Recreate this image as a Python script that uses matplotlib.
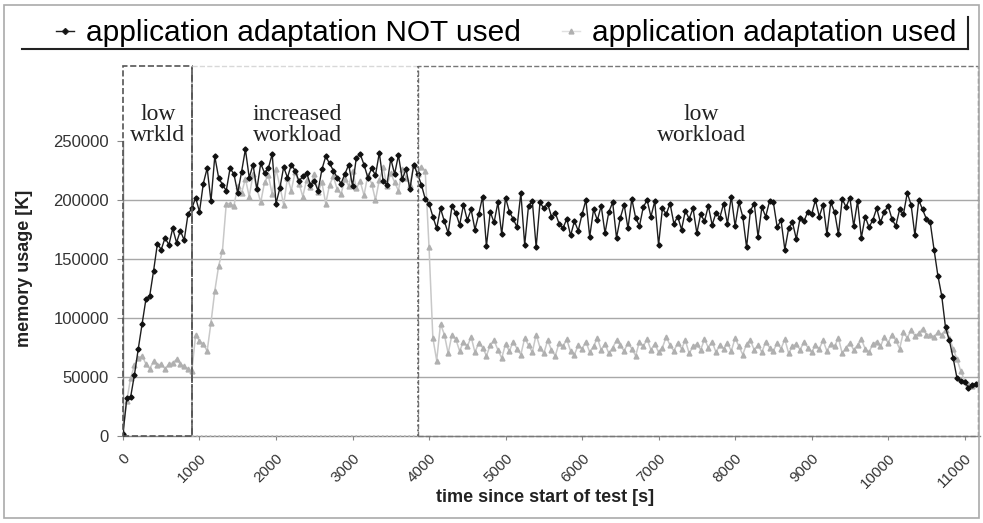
import matplotlib
matplotlib.use('Agg')
import matplotlib.pyplot as plt
import numpy as np
from matplotlib.lines import Line2D
from matplotlib.patches import Rectangle

# sampling interval of the memory log [s]
interval = 50

# memory usage [K], application adaptation NOT used
mem_not_used = [
    # low workload
    2000, 32000, 33000, 52000, 74000, 95000, 116000, 119000, 140000, 163000,
    158000, 168000, 162000, 176000, 164000, 174000, 166000, 188000, 193000, 202000,
    # increased workload
    190000, 214000, 227000, 199000, 237000, 219000, 213000, 208000, 227000, 222000,
    206000, 224000, 243000, 219000, 230000, 209000, 231000, 223000, 227000, 239000,
    197000, 210000, 228000, 219000, 230000, 225000, 216000, 220000, 223000, 213000,
    216000, 208000, 226000, 237000, 231000, 225000, 219000, 214000, 222000, 230000,
    212000, 236000, 239000, 230000, 219000, 227000, 221000, 240000, 216000, 213000,
    235000, 222000, 238000, 218000, 226000, 209000, 230000, 222000, 213000, 201000,
    # low workload
    197000, 186000, 176000, 193000, 182000, 172000, 195000, 189000, 179000, 196000,
    183000, 192000, 175000, 188000, 203000, 161000, 190000, 181000, 198000, 171000,
    202000, 190000, 184000, 177000, 206000, 162000, 195000, 199000, 160000, 198000,
    193000, 197000, 186000, 189000, 180000, 176000, 184000, 170000, 182000, 174000,
    188000, 200000, 169000, 192000, 183000, 195000, 172000, 190000, 198000, 168000,
    185000, 196000, 176000, 201000, 185000, 178000, 194000, 200000, 186000, 199000,
    162000, 193000, 188000, 197000, 180000, 186000, 175000, 191000, 184000, 193000,
    172000, 188000, 182000, 195000, 179000, 189000, 185000, 197000, 180000, 203000,
    178000, 198000, 186000, 160000, 191000, 197000, 169000, 194000, 186000, 199000,
    198000, 177000, 183000, 158000, 176000, 181000, 167000, 185000, 182000, 190000,
    188000, 200000, 186000, 196000, 171000, 198000, 190000, 171000, 201000, 194000,
    202000, 178000, 199000, 168000, 186000, 177000, 183000, 193000, 181000, 190000,
    195000, 184000, 178000, 192000, 188000, 206000, 196000, 170000, 200000, 192000,
    184000,
    # end of test
    181000, 158000, 136000, 119000, 92000, 81000, 66000, 49000, 47000, 46000,
    41000, 43000, 44000,
]

# memory usage [K], application adaptation used
mem_used = [
    # low workload
    3000, 30000, 49000, 60000, 66000, 68000, 61000, 57000, 63500, 60000,
    61000, 57000, 61000, 62000, 65000, 61000, 59000, 57000, 55000, 86000,
    # increased workload
    80500, 78000, 72000, 96000, 123000, 144000, 157000, 197000, 197000, 195000,
    212000, 206000, 218000, 203000, 222000, 210000, 198000, 215000, 221000, 205000,
    226000, 212000, 196000, 219000, 208000, 224000, 214000, 203000, 217000, 211000,
    222000, 207000, 215000, 197000, 213000, 220000, 209000, 205000, 218000, 212000,
    225000, 210000, 216000, 204000, 221000, 214000, 200000, 217000, 228000, 212000,
    223000, 215000, 208000, 226000, 219000, 213000, 230000, 222000, 228000, 225000,
    # low workload
    160000, 83000, 64000, 95000, 86000, 70000, 86000, 82000, 72000, 80000,
    76000, 84000, 71000, 79000, 75000, 68000, 77000, 81000, 73000, 66000,
    78000, 72000, 80000, 74000, 69000, 83000, 77000, 71000, 86000, 75000,
    70000, 81000, 73000, 68000, 79000, 76000, 82000, 72000, 69000, 77000,
    74000, 80000, 71000, 76000, 83000, 73000, 78000, 70000, 75000, 81000,
    77000, 72000, 79000, 74000, 68000, 80000, 76000, 82000, 73000, 78000,
    71000, 75000, 84000, 77000, 72000, 79000, 74000, 81000, 70000, 76000,
    78000, 73000, 82000, 75000, 80000, 71000, 77000, 74000, 79000, 72000,
    83000, 76000, 69000, 78000, 81000, 73000, 77000, 71000, 80000, 75000,
    72000, 79000, 74000, 82000, 70000, 76000, 78000, 73000, 80000, 75000,
    71000, 77000, 74000, 81000, 72000, 78000, 76000, 83000, 70000, 75000,
    79000, 73000, 77000, 82000, 74000, 71000, 78000, 80000, 76000, 84000,
    79000, 86000, 81000, 74000, 88000, 83000, 90000, 85000, 87000, 91000,
    86000,
    # end of test
    86000, 84000, 88000, 86000, 90000, 83000, 74000, 65000, 55000, 47000,
    44000, 42000, 44000,
]

x_ticks = list(range(0, 12000, 1000))
y_ticks = [0, 50000, 100000, 150000, 200000, 250000]

# phases of the test: (start, end, label)
phases = [
    (0, 900, 'low\nwrkld'),
    (900, 3860, 'increased\nworkload'),
    (3860, 11180, 'low\nworkload'),
]

t = np.arange(len(mem_not_used)) * interval

fig = plt.figure(figsize=(9.83, 5.23), dpi=100)
ax = fig.add_axes([0.1251, 0.1663, 0.8718, 0.564])

ax.plot(t, mem_used, color='#c8c8c8', lw=1.1, marker='^', ms=3.5,
        mfc='#b0b0b0', mec='#b0b0b0', zorder=3)
ax.plot(t, mem_not_used, color='#1e1e1e', lw=1.0, marker='D', ms=2.6,
        mfc='#111111', mec='#111111', zorder=4)

ax.set_xlim(0, 11200)
ax.set_ylim(0, 250000)
ax.set_yticks(y_ticks)
ax.set_yticklabels([str(v) for v in y_ticks], fontsize=12, color='#333333',
                   family='Liberation Sans')
ax.set_xticks(x_ticks)
ax.set_xticklabels([str(v) for v in x_ticks], fontsize=11, color='#333333',
                   rotation=45, ha='right', rotation_mode='anchor',
                   family='Liberation Sans')
ax.tick_params(axis='y', length=4, color='#888888', pad=6)
ax.tick_params(axis='x', length=3, color='#888888', pad=8)

for y in y_ticks[1:-1]:
    ax.axhline(y, color='#a8a8a8', lw=1.0, zorder=1)

for s in ['top', 'right']:
    ax.spines[s].set_visible(False)
for s in ['left', 'bottom']:
    ax.spines[s].set_color('#888888')
    ax.spines[s].set_linewidth(1.0)

# dashed boxes around the test phases
box_top = 314000
ax.add_patch(Rectangle((phases[0][0], 0), phases[0][1] - phases[0][0], box_top,
                       fill=False, ls='--', lw=1.2, ec='#555555',
                       clip_on=False, zorder=5))
ax.plot([phases[1][0]] * 2, [0, box_top], ls='-.', lw=1.2, color='#555555',
        clip_on=False, zorder=5)
ax.plot([phases[1][0], phases[1][1]], [box_top] * 2, ls='--', lw=1.0,
        color='#d8d8d8', clip_on=False, zorder=5)
ax.plot([phases[1][0], phases[1][1]], [0, 0], ls=':', lw=1.2,
        color='#bbbbbb', clip_on=False, zorder=5)
ax.add_patch(Rectangle((phases[2][0], 0), phases[2][1] - phases[2][0], box_top,
                       fill=False, ls='--', lw=1.0, ec='#777777',
                       clip_on=False, zorder=5))
ax.plot([phases[1][1]] * 2, [0, box_top], ls=':', lw=1.3, color='#666666',
        clip_on=False, zorder=6)

label_x = [458, 2275, 7556]
for (start, end, name), lx in zip(phases, label_x):
    ax.text(lx, 264000, name, ha='center', va='center', fontsize=17,
            family='Liberation Serif', color='#222222', linespacing=1.0,
            clip_on=False)

fig.text(545 / 983, 1 - 497 / 523, 'time since start of test [s]',
         ha='center', va='center', fontsize=13, fontweight='bold',
         family='Liberation Sans', color='#222222')
fig.text(25 / 983, 1 - 268 / 523, 'memory usage [K]', rotation=90,
         ha='center', va='center', fontsize=13, fontweight='bold',
         family='Liberation Sans', color='#222222')

# legend on top
handles = [
    Line2D([], [], color='#1e1e1e', lw=1.0, marker='D', ms=3, mfc='#111111'),
    Line2D([], [], color='#e0e0e0', lw=1.0, marker='^', ms=3.5, mfc='#b0b0b0',
           mec='#b0b0b0'),
]
labels = ['application adaptation NOT used', 'application adaptation used']
fig.legend(handles, labels, ncol=2, loc='center',
           bbox_to_anchor=(0.515, 1 - 33 / 523), frameon=False,
           handlelength=0.6, handletextpad=0.4, columnspacing=1.37,
           prop={'family': 'Liberation Sans', 'size': 21.5})
fig.add_artist(Line2D([22 / 983, 968 / 983], [1 - 49 / 523] * 2,
                      transform=fig.transFigure, color='#222222', lw=1.5))
fig.add_artist(Line2D([968 / 983] * 2, [1 - 17 / 523, 1 - 49 / 523],
                      transform=fig.transFigure, color='#222222', lw=1.5))

# chart border
fig.add_artist(Rectangle((4 / 983, 5 / 523), 975 / 983, 513 / 523,
                         transform=fig.transFigure, fill=False,
                         ec='#aaaaaa', lw=1.2))

fig.savefig('out.png', dpi=100, facecolor='white')
